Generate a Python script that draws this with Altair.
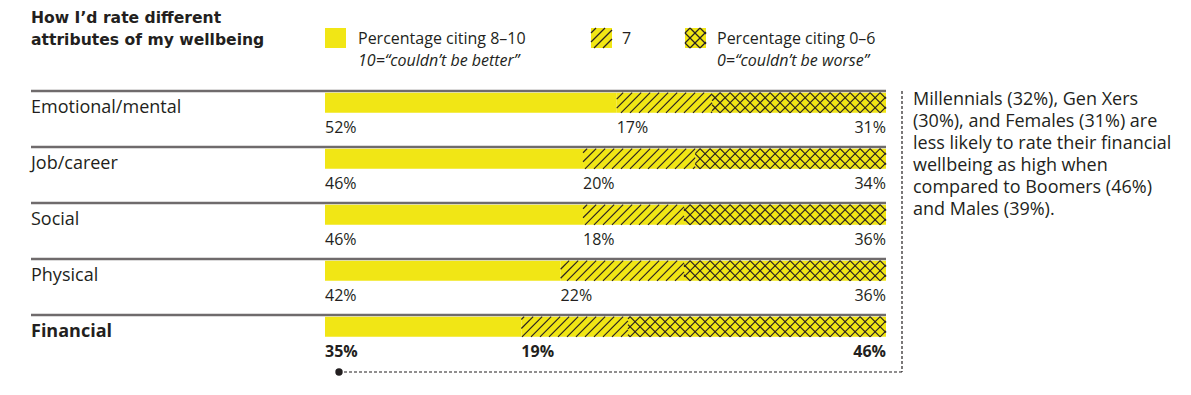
import math
import altair as alt
import pandas as pd

# ---------------- data ----------------
categories = ["Emotional/mental", "Job/career", "Social", "Physical", "Financial"]
pct_high = [52, 46, 46, 42, 35]      # 8-10
pct_seven = [17, 20, 18, 22, 19]     # 7
pct_low = [31, 34, 36, 36, 46]       # 0-6
legend_labels = ["Percentage citing 8–10", "7", "Percentage citing 0–6"]
legend_notes = ["10=“couldn’t be better”", "", "0=“couldn’t be worse”"]
title_lines = ["How I’d rate different", "attributes of my wellbeing"]
note_lines = [
    "Millennials (32%), Gen Xers",
    "(30%), and Females (31%) are",
    "less likely to rate their financial",
    "wellbeing as high when",
    "compared to Boomers (46%)",
    "and Males (39%).",
]

# ---------------- layout ----------------
W, H = 1175, 370
PAGE_X = 8
PAGE_Y = 8
BAR_LEFT_PX = 325      # page px where 0% sits
BAR_RIGHT_PX = 886     # page px where 100% sits
KX = (BAR_RIGHT_PX - BAR_LEFT_PX) / 100.0
ROW0_PX = 91           # page px of first row rule
KY = 56.0              # px per row


def px2x(p):
    return (p - BAR_LEFT_PX) / KX


def px2y(p):
    return (p - ROW0_PX) / KY


XS = alt.Scale(domain=[px2x(PAGE_X), px2x(PAGE_X + W)], range=[0, W], nice=False, zero=False)
YS = alt.Scale(domain=[px2y(PAGE_Y), px2y(PAGE_Y + H)], range=[0, H], nice=False, zero=False)

YELLOW = "#F1E615"
INK = "#231f20"
GREY = "#6f6b6c"
FONT = "Open Sans"
TITLE_FONT = "DejaVu Sans"

BAR_TOP = 0.03
BAR_BOT = 0.39


def hatch(x0, x1, y0, y1, step, slope):
    """Diagonal line segments clipped to a box given in data units."""
    w = (x1 - x0) * KX
    h = (y1 - y0) * KY
    abs_left = BAR_LEFT_PX + x0 * KX
    u = -(abs_left % step) - step * math.ceil(h / step)
    segs = []
    while u < w:
        t0 = max(0.0, -u / h)
        t1 = min(1.0, (w - u) / h)
        if t1 > t0:
            xa, xb = u + t0 * h, u + t1 * h
            if slope > 0:
                va, vb = h - t0 * h, h - t1 * h
            else:
                va, vb = t0 * h, t1 * h
            segs.append(dict(x=x0 + xa / KX, x2=x0 + xb / KX,
                             y=y0 + va / KY, y2=y0 + vb / KY))
        u += step
    return segs


# bars
bar_rows, hatch_rows, lab_rows = [], [], []
for i, (c, a, b, d) in enumerate(zip(categories, pct_high, pct_seven, pct_low)):
    s1, s2, s3 = 0, a, a + b
    bar_rows += [
        dict(cat=c, x=s1, x2=s2, y=i + BAR_TOP, y2=i + BAR_BOT),
        dict(cat=c, x=s2, x2=s3, y=i + BAR_TOP, y2=i + BAR_BOT),
        dict(cat=c, x=s3, x2=100, y=i + BAR_TOP, y2=i + BAR_BOT),
    ]
    hatch_rows += hatch(s2, s3, i + BAR_TOP, i + BAR_BOT, 9, 1)
    hatch_rows += hatch(s3, 100, i + BAR_TOP, i + BAR_BOT, 10, 1)
    hatch_rows += hatch(s3, 100, i + BAR_TOP, i + BAR_BOT, 10, -1)
    bold = c == "Financial"
    lab_rows += [
        dict(t=f"{a}%", x=s1, y=i + 0.66, al="left", bold=bold),
        dict(t=f"{b}%", x=s2, y=i + 0.66, al="left", bold=bold),
        dict(t=f"{d}%", x=100, y=i + 0.66, al="right", bold=bold),
    ]

# legend swatches
sw_y0, sw_y1 = px2y(28), px2y(48)
sw = [(325, 346), (591, 612), (685, 706)]
legend_boxes = [dict(x=px2x(a), x2=px2x(b), y=sw_y0, y2=sw_y1) for a, b in sw]
hatch_rows += hatch(px2x(sw[1][0]), px2x(sw[1][1]), sw_y0, sw_y1, 9, 1)
hatch_rows += hatch(px2x(sw[2][0]), px2x(sw[2][1]), sw_y0, sw_y1, 10, 1)
hatch_rows += hatch(px2x(sw[2][0]), px2x(sw[2][1]), sw_y0, sw_y1, 10, -1)

bars = pd.DataFrame(bar_rows)
hatches = pd.DataFrame(hatch_rows)
labs = pd.DataFrame(lab_rows)
boxes = pd.DataFrame(legend_boxes)

rules = pd.DataFrame([dict(x=px2x(31), x2=100, y=i) for i in range(len(categories))])
cats = pd.DataFrame([dict(t=c, x=px2x(31), y=i + 0.31, bold=(c == "Financial"))
                     for i, c in enumerate(categories)])

legend_text = pd.DataFrame(
    [dict(t=legend_labels[0], x=px2x(358), y=px2y(39)),
     dict(t=legend_labels[1], x=px2x(622), y=px2y(39)),
     dict(t=legend_labels[2], x=px2x(717), y=px2y(39))])
legend_note = pd.DataFrame(
    [dict(t=legend_notes[0], x=px2x(358), y=px2y(61)),
     dict(t=legend_notes[2], x=px2x(717), y=px2y(61))])
title_df = pd.DataFrame([dict(t=t, x=px2x(31), y=px2y(18 + 21.5 * k)) for k, t in enumerate(title_lines)])
note_df = pd.DataFrame([dict(t=t, x=px2x(913), y=px2y(100 + 22 * k)) for k, t in enumerate(note_lines)])

conn_x = px2x(902)
conn_y = px2y(372)
dot_x = px2x(339)
conn = pd.DataFrame([
    dict(x=conn_x, x2=conn_x, y=0, y2=conn_y),
    dict(x=dot_x, x2=conn_x, y=conn_y, y2=conn_y),
])
dot = pd.DataFrame([dict(x=dot_x, y=conn_y)])


def xy():
    return dict(x=alt.X("x:Q", scale=XS, axis=None), y=alt.Y("y:Q", scale=YS, axis=None))


def rect_layer(df):
    return alt.Chart(df).mark_rect(color=YELLOW, strokeWidth=0).encode(
        **xy(), x2="x2:Q", y2="y2:Q")


row_rules = alt.Chart(rules).mark_rule(color=GREY, strokeWidth=2.5).encode(**xy(), x2="x2:Q")
bar_layer = rect_layer(bars)
box_layer = rect_layer(boxes)
hatch_layer = alt.Chart(hatches).mark_rule(color="#2a2222", strokeWidth=1.2).encode(
    **xy(), x2="x2:Q", y2="y2:Q")


def text_layer(df, size, weight="normal", align="left", style="normal", font=FONT):
    return alt.Chart(df).mark_text(
        font=font, fontSize=size, fontWeight=weight, align=align, baseline="middle",
        color=INK, fontStyle=style).encode(**xy(), text="t:N")


labs_n = labs[~labs.bold]
labs_b = labs[labs.bold]
lab_layers = []
for al in ["left", "right"]:
    lab_layers.append(text_layer(labs_n[labs_n.al == al], 16, "normal", al))
    lab_layers.append(text_layer(labs_b[labs_b.al == al], 16, "bold", al))

cat_layers = [text_layer(cats[~cats.bold], 18), text_layer(cats[cats.bold], 18, "bold")]

conn_layer = alt.Chart(conn).mark_rule(color=INK, strokeWidth=1.2, strokeDash=[3, 2]).encode(
    **xy(), x2="x2:Q", y2="y2:Q")
dot_layer = alt.Chart(dot).mark_circle(color=INK, size=55, opacity=1).encode(**xy())

chart = alt.layer(
    row_rules, bar_layer, box_layer, hatch_layer,
    *lab_layers, *cat_layers,
    text_layer(legend_text, 16),
    text_layer(legend_note, 16, style="italic"),
    text_layer(title_df, 15.6, "bold", font=TITLE_FONT),
    text_layer(note_df, 18),
    conn_layer, dot_layer,
).properties(
    width=W, height=H,
    autosize=alt.AutoSizeParams(type="none"),
    padding=0,
).configure_view(stroke=None)

chart.save("out.html", embed_options={"renderer": "svg", "actions": False})
